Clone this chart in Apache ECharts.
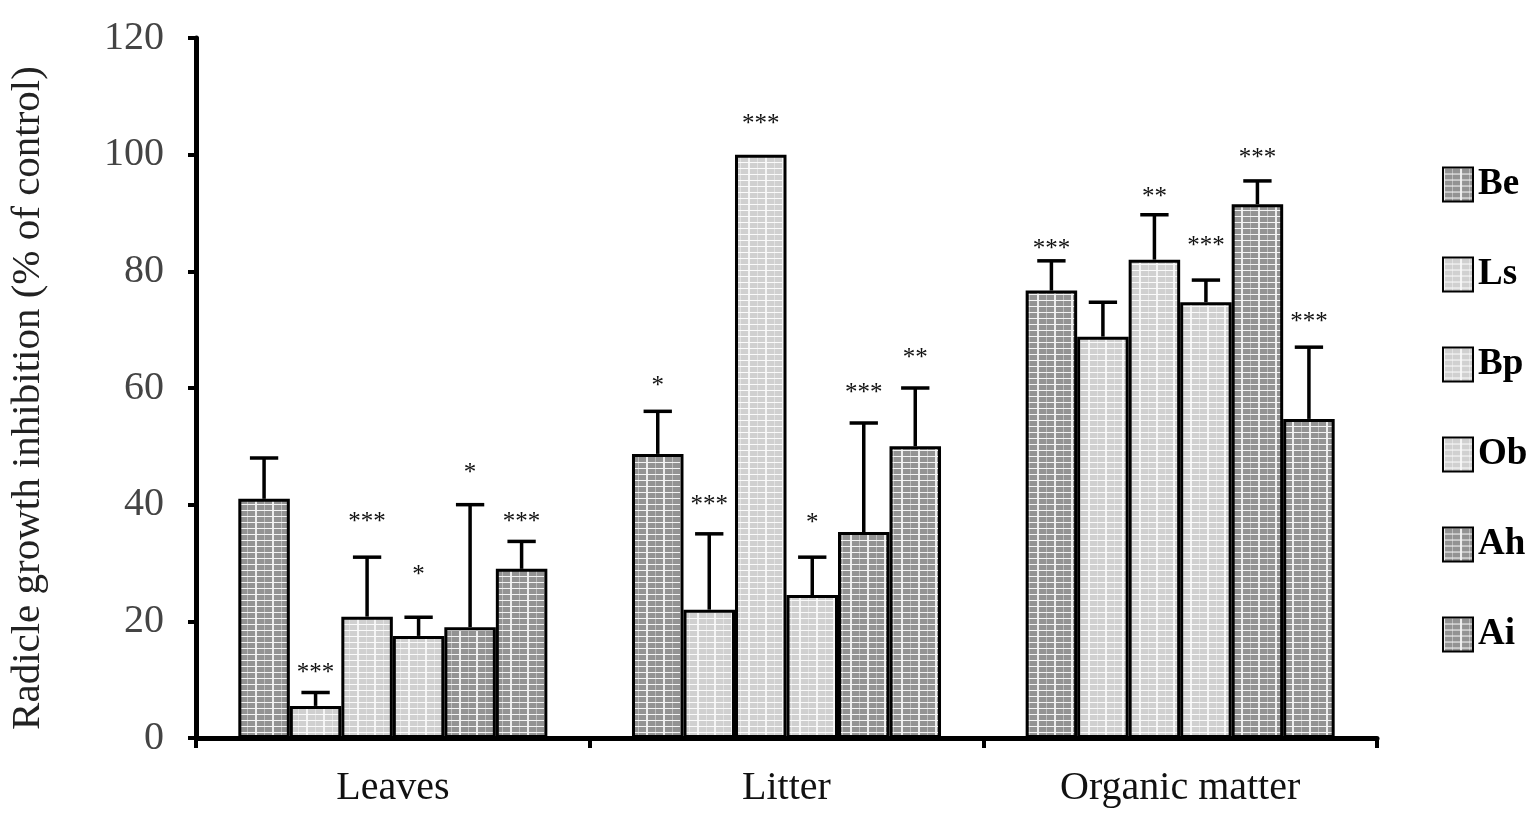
<!DOCTYPE html>
<html><head><meta charset="utf-8">
<script src="https://cdn.jsdelivr.net/npm/echarts@6/dist/echarts.min.js"></script>
<style>html,body{margin:0;padding:0;background:#fff}#chart{width:1540px;height:816px}</style>
</head><body><div id="chart"></div>
<script>
// ---------- data ----------
const categories = ['Leaves', 'Litter', 'Organic matter'];
const seriesNames = ['Be', 'Ls', 'Bp', 'Ob', 'Ah', 'Ai'];
const yTickMin = 0, yTickMax = 120, yTickStep = 20;

// mean values (% of control)
const valBe = [41.0, 48.7, 76.7];
const valLs = [5.5, 22.0, 68.8];
const valBp = [20.8, 100.0, 82.0];
const valOb = [17.5, 24.5, 74.7];
const valAh = [19.0, 35.3, 91.5];
const valAi = [29.0, 50.0, 54.7];

// upper end of error bars
const errBe = [48.0, 56.0, 81.8];
const errLs = [7.8, 35.0, 74.7];
const errBp = [31.0, null, 89.7];
const errOb = [20.7, 31.0, 78.5];
const errAh = [40.0, 54.0, 95.5];
const errAi = [33.7, 60.0, 67.0];

// significance marks and the height they sit at
const sigBe = ['', '*', '***'];
const sigLs = ['***', '***', ''];
const sigBp = ['***', '***', '**'];
const sigOb = ['*', '*', '***'];
const sigAh = ['*', '***', '***'];
const sigAi = ['***', '**', '***'];
const sigYBe = [null, 61.4, 85.0];
const sigYLs = [12.3, 41.0, null];
const sigYBp = [38.1, 106.4, 93.8];
const sigYOb = [29.1, 37.9, 85.5];
const sigYAh = [46.6, 60.2, 100.6];
const sigYAi = [38.1, 66.2, 72.5];

const allVals = [valBe, valLs, valBp, valOb, valAh, valAi];
const allErr = [errBe, errLs, errBp, errOb, errAh, errAi];
const allSig = [sigBe, sigLs, sigBp, sigOb, sigAh, sigAi];
const allSigY = [sigYBe, sigYLs, sigYBp, sigYOb, sigYAh, sigYAi];
const darkSeries = [true, false, false, false, true, true];

// ---------- styles ----------
const SERIF = '"Liberation Serif", "Times New Roman", serif';
const GAP = 0.215;

function makePattern(base, hLine, vLine, vLine2) {
  const c = document.createElement('canvas');
  c.width = 17; c.height = 6;
  const g = c.getContext('2d');
  g.fillStyle = base; g.fillRect(0, 0, 17, 6);
  g.fillStyle = vLine2; g.fillRect(9, 0, 1, 6);
  g.fillStyle = vLine; g.fillRect(0, 0, 2, 6);
  g.fillStyle = hLine; g.fillRect(0, 0, 17, 1);
  return c;
}
const darkPat = { image: makePattern('#939393', '#f4f4f4', '#ececec', '#bcbcbc'), repeat: 'repeat' };
const lightPat = { image: makePattern('#d0d0d0', '#fafafa', '#f4f4f4', '#e2e2e2'), repeat: 'repeat' };

function errRender(si) {
  return function (params, api) {
    const i = params.dataIndex;
    const cat = api.value(0);
    const base = api.coord([cat, 0]);
    const catW = api.size([1, 0])[0];
    const barW = catW * (1 - GAP) / 6;
    const x = base[0] - 3 * barW + (si + 0.5) * barW;
    const capW = barW * 0.55;
    const children = [];
    const e = allErr[si][i];
    if (e != null) {
      const yb = api.coord([cat, api.value(1)])[1];
      const yt = api.coord([cat, e])[1];
      children.push({ type: 'line', shape: { x1: x, y1: yb, x2: x, y2: yt }, style: { stroke: '#000', lineWidth: 3.5 } });
      children.push({ type: 'line', shape: { x1: x - capW / 2, y1: yt, x2: x + capW / 2, y2: yt }, style: { stroke: '#000', lineWidth: 3.5 } });
    }
    const s = allSig[si][i];
    const sy = allSigY[si][i];
    if (s && sy != null) {
      const ys = api.coord([cat, sy])[1];
      children.push({ type: 'text', style: { text: s, x: x, y: ys + 7, align: 'center', verticalAlign: 'middle', fontSize: 25, fontFamily: SERIF, fill: '#111' } });
    }
    return { type: 'group', children: children };
  };
}

const series = [];
seriesNames.forEach(function (name, si) {
  series.push({
    name: name, type: 'bar', data: allVals[si],
    barGap: '0%', barCategoryGap: (GAP * 100) + '%',
    itemStyle: { color: darkSeries[si] ? darkPat : lightPat, borderColor: '#000', borderWidth: 3 },
    emphasis: { disabled: true }, z: 2
  });
});
seriesNames.forEach(function (name, si) {
  series.push({
    name: name + ' err', type: 'custom', z: 5, silent: true,
    renderItem: errRender(si),
    data: allVals[si].map(function (v, i) { return [i, v, allErr[si][i] == null ? v : allErr[si][i]]; }),
    encode: { x: 0, y: [1, 2] }
  });
});

const chart = echarts.init(document.getElementById('chart'), null, { renderer: 'canvas' });
chart.setOption({
  animation: false,
  backgroundColor: '#fff',
  grid: { left: 193, right: 163, top: 38, bottom: 78, containLabel: false },
  legend: {
    data: seriesNames, orient: 'vertical', left: 1437, top: 161,
    icon: 'rect', itemWidth: 30, itemHeight: 34, itemGap: 53,
    textStyle: { fontFamily: SERIF, fontWeight: 'bold', fontSize: 37, color: '#000', lineHeight: 34, padding: [0, 0, 0, 0] },
    selectedMode: false
  },
  xAxis: {
    type: 'category', data: categories,
    axisLine: { lineStyle: { color: '#000', width: 5 } },
    axisTick: { show: true, interval: 0, length: 10, lineStyle: { color: '#000', width: 4 } },
    axisLabel: { fontFamily: SERIF, fontSize: 40, color: '#111', margin: 30 },
    splitLine: { show: false }
  },
  yAxis: {
    type: 'value', min: yTickMin, max: yTickMax, interval: yTickStep,
    name: 'Radicle growth inhibition (% of control)', nameLocation: 'middle', nameGap: 147, nameRotate: 90,
    nameTextStyle: { fontFamily: SERIF, fontSize: 41, color: '#222', padding: [0, 20, 0, 0] },
    axisLine: { show: true, lineStyle: { color: '#000', width: 5 } },
    axisTick: { show: true, length: 8, lineStyle: { color: '#000', width: 4 } },
    axisLabel: { fontFamily: SERIF, fontSize: 40, color: '#444', margin: 32 },
    splitLine: { show: false }
  },
  series: series
});
</script>
</body></html>
